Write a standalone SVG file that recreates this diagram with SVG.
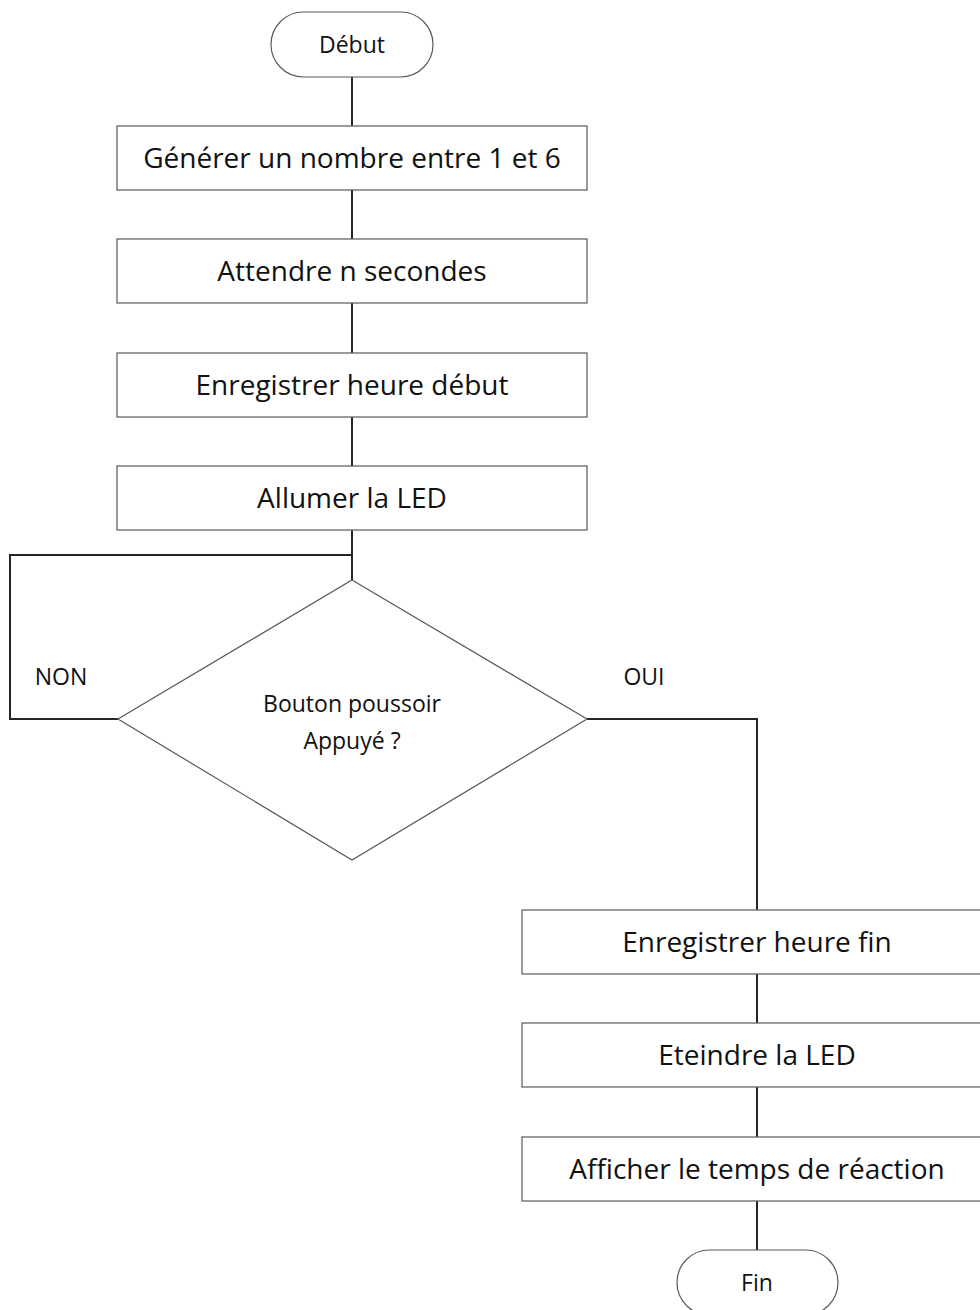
<svg xmlns="http://www.w3.org/2000/svg" width="980" height="1310" viewBox="0 0 980 1310">
<style>
.box{fill:#fff;stroke:#595959;stroke-width:1.2}
.t{font-family:"Open Sans","Liberation Sans",sans-serif;fill:#111;text-anchor:middle}
.big{font-size:28px}
.sm{font-size:23px}
.conn{fill:none;stroke:#262626;stroke-width:2}
</style>
<rect width="980" height="1310" fill="#fff"/>
<g id="connectors">
<line class="conn" x1="352" y1="77" x2="352" y2="126"/>
<line class="conn" x1="352" y1="190" x2="352" y2="239"/>
<line class="conn" x1="352" y1="303" x2="352" y2="353"/>
<line class="conn" x1="352" y1="417" x2="352" y2="466"/>
<line class="conn" x1="352" y1="530" x2="352" y2="580"/>
<polyline class="conn" points="352,555 10,555 10,719 118,719"/>
<polyline class="conn" points="587,719 757,719 757,910"/>
<line class="conn" x1="757" y1="974" x2="757" y2="1023"/>
<line class="conn" x1="757" y1="1087" x2="757" y2="1137"/>
<line class="conn" x1="757" y1="1201" x2="757" y2="1250"/>
<text class="t sm" x="61" y="685">NON</text>
<text class="t sm" x="644" y="685">OUI</text>
</g>
<g id="debut">
<rect class="box" x="271" y="12" width="162" height="65" rx="32.5"/>
<text class="t sm" x="352" y="53">Début</text>
</g>
<g id="generer">
<rect class="box" x="117" y="126" width="470" height="64"/>
<text class="t big" x="352" y="168">Générer un nombre entre 1 et 6</text>
</g>
<g id="attendre">
<rect class="box" x="117" y="239" width="470" height="64"/>
<text class="t big" x="352" y="281">Attendre n secondes</text>
</g>
<g id="enreg-debut">
<rect class="box" x="117" y="353" width="470" height="64"/>
<text class="t big" x="352" y="395">Enregistrer heure début</text>
</g>
<g id="allumer">
<rect class="box" x="117" y="466" width="470" height="64"/>
<text class="t big" x="352" y="508">Allumer la LED</text>
</g>
<g id="decision">
<polygon class="box" points="352,580 587,719 352,860 118,719"/>
<text class="t sm" x="352" y="712">Bouton poussoir</text>
<text class="t sm" x="352" y="749">Appuyé ?</text>
</g>
<g id="enreg-fin">
<rect class="box" x="522" y="910" width="470" height="64"/>
<text class="t big" x="757" y="952">Enregistrer heure fin</text>
</g>
<g id="eteindre">
<rect class="box" x="522" y="1023" width="470" height="64"/>
<text class="t big" x="757" y="1065">Eteindre la LED</text>
</g>
<g id="afficher">
<rect class="box" x="522" y="1137" width="470" height="64"/>
<text class="t big" x="757" y="1179">Afficher le temps de réaction</text>
</g>
<g id="fin">
<rect class="box" x="677" y="1250" width="161" height="65" rx="32.5"/>
<text class="t sm" x="757" y="1291">Fin</text>
</g>
</svg>
